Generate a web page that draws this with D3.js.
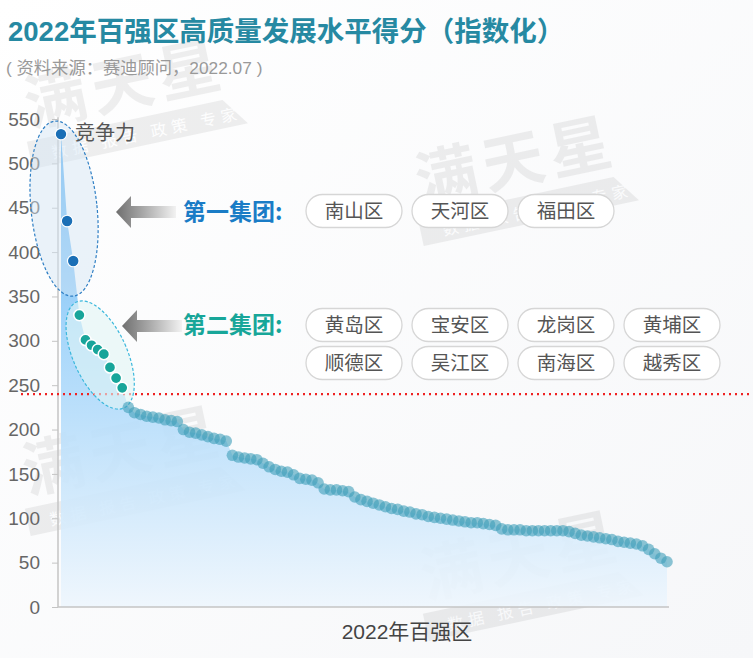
<!DOCTYPE html>
<html><head><meta charset="utf-8">
<script src="https://cdn.jsdelivr.net/npm/d3@7"></script>
<style>
html,body{margin:0;padding:0;background:#fafafb;}
svg{display:block;font-family:"Liberation Sans","Noto Sans CJK SC",sans-serif;}
</style></head>
<body>
<svg id="chart" width="753" height="658"></svg>
<script>
// ---------- data ----------
const ranks = d3.range(1, 101);
const scores = [533,435,390,329,301,295,290,285,270,258,247,
  225,219,217,215,214,213,211,210,209,
  200,197,196,194,192,190,189,187,
  171,169,168,167,166,162,158,155,153,152,
  149,145,144,143,140,133,132,132,131,130,
  124,121,119,117,115,113,111,110,108,107,
  105,104,102,101,100,99,98,97,96,95,
  95,94,93,92,88,87,87,87,86,86,
  86,86,86,86,86,85,83,81,80,79,
  78,77,76,74,73,72,71,69,65,60,
  55,51];
const yTicks = [0,50,100,150,200,250,300,350,400,450,500,550];
const group1Names = ["南山区","天河区","福田区"];
const group2Names = ["黄岛区","宝安区","龙岗区","黄埔区","顺德区","吴江区","南海区","越秀区"];
const group1Size = 3, group2Size = 8;
const threshold = 240;
const titleText = "2022年百强区高质量发展水平得分（指数化）";
const sourceText = "( 资料来源：赛迪顾问，2022.07 )";
const xLabel = "2022年百强区";
const peakLabel = "竞争力";

const data = ranks.map((r,i)=>({rank:r, score:scores[i]}));

const svg = d3.select("#chart");
const W = 753, H = 658;
const defs = svg.append("defs");

// background
const bg = defs.append("linearGradient").attr("id","bgGrad").attr("x1",0).attr("y1",0).attr("x2",1).attr("y2",1);
bg.append("stop").attr("offset","0%").attr("stop-color","#ffffff");
bg.append("stop").attr("offset","100%").attr("stop-color","#f6f7f9");
svg.append("rect").attr("width",W).attr("height",H).attr("fill","url(#bgGrad)");

// scales
const x = d3.scaleLinear().domain([1,100]).range([61,667]);
const y = d3.scaleLinear().domain([0,550]).range([607,119]);

// watermarks
function watermark(tx, ty){
  const g = svg.append("g").attr("transform",`translate(${tx},${ty}) rotate(-12)`).attr("opacity",0.06);
  g.append("path").attr("d","M0,14 L200,14 L220,42 L0,42 Z").attr("fill","#000");
  g.append("text").attr("x",6).attr("y",0).attr("font-size",62).attr("font-weight","bold")
    .attr("letter-spacing",6).attr("fill","#000").attr("font-family","Noto Sans CJK SC").text("满天星");
  g.append("text").attr("x",22).attr("y",36).attr("font-size",16).attr("letter-spacing",5)
    .attr("fill","#fff").attr("font-family","Noto Sans CJK SC").text("数据 报告 政策 专家");
}
watermark(24,128);
watermark(415,205);
watermark(22,495);
watermark(420,600);

// area gradient
const ag = defs.append("linearGradient").attr("id","areaGrad").attr("gradientUnits","userSpaceOnUse")
  .attr("x1",0).attr("y1",y(550)).attr("x2",0).attr("y2",y(0));
ag.append("stop").attr("offset","0%").attr("stop-color","#4aa8f0");
ag.append("stop").attr("offset","45%").attr("stop-color","#9fd3fa");
ag.append("stop").attr("offset","100%").attr("stop-color","#eef6fd");

const area = d3.area().x(d=>x(d.rank)).y0(y(0)).y1(d=>y(d.score));
svg.append("path").datum(data).attr("d",area).attr("fill","url(#areaGrad)").attr("opacity",0.9);

// axes
const yAxis = d3.axisLeft(y).tickValues(yTicks).tickSize(6).tickPadding(12);
const gy = svg.append("g").attr("transform",`translate(58,0)`).call(yAxis);
gy.select(".domain").attr("stroke","#c4c4c4").attr("stroke-width",1.5).attr("d",`M0,${y(0)}V${y(552)}`);
gy.selectAll(".tick line").attr("stroke","#c4c4c4");
gy.selectAll(".tick text").attr("fill","#666").attr("font-size",19).attr("font-family","Liberation Sans, sans-serif");

const xAxis = d3.axisBottom(x).tickValues([]).tickSizeOuter(0);
const gx = svg.append("g").attr("transform",`translate(0,${y(0)})`).call(xAxis);
gx.select(".domain").attr("stroke","#c4c4c4").attr("stroke-width",1.5).attr("d","M58,0H669");

svg.append("text").attr("x",(x(1)+x(100))/2+43).attr("y",639).attr("text-anchor","middle")
  .attr("font-size",21).attr("fill","#444").text(xLabel);

// threshold line
svg.append("line").attr("x1",21).attr("x2",W).attr("y1",y(threshold)).attr("y2",y(threshold))
  .attr("stroke","#ee2222").attr("stroke-width",2.2).attr("stroke-dasharray","2,4");

// ellipses
function ellipseAround(cxIdx, cyVal, rx, ry, angle, fill, stroke){
  svg.append("ellipse").attr("transform",`translate(${x(cxIdx)},${y(cyVal)}) rotate(${angle})`)
    .attr("rx",rx).attr("ry",ry).attr("fill",fill).attr("stroke",stroke)
    .attr("stroke-width",1.2).attr("stroke-dasharray","3,2");
}
ellipseAround(1.5, 449, 33, 88, -6, "rgba(210,228,245,0.45)", "#2f7fc4");
ellipseAround(7.4, 284, 27, 58, -24, "rgba(225,245,245,0.6)", "#3bb8dc");

// dots
svg.append("g").selectAll("circle").data(data.slice(group1Size+group2Size)).join("circle")
  .attr("cx",d=>x(d.rank)).attr("cy",d=>y(d.score)).attr("r",5.8)
  .attr("fill","#3f9fb9").attr("fill-opacity",0.6);
svg.append("g").selectAll("circle").data(data.slice(group1Size, group1Size+group2Size)).join("circle")
  .attr("cx",d=>x(d.rank)).attr("cy",d=>y(d.score)).attr("r",5.6)
  .attr("fill","#18a59a").attr("stroke","#fff").attr("stroke-width",1.5);
svg.append("g").selectAll("circle").data(data.slice(0, group1Size)).join("circle")
  .attr("cx",d=>x(d.rank)).attr("cy",d=>y(d.score)).attr("r",5.8)
  .attr("fill","#1b6fb6").attr("stroke","#fff").attr("stroke-width",1.2);

svg.append("text").attr("x",x(1)+14).attr("y",y(scores[0])+6).attr("font-size",20).attr("fill","#555")
  .attr("font-family","Noto Sans CJK SC").text(peakLabel);

// arrows
const arg = defs.append("linearGradient").attr("id","arrowGrad").attr("x1",0).attr("y1",0).attr("x2",1).attr("y2",0);
arg.append("stop").attr("offset","0%").attr("stop-color","#6f6f6f");
arg.append("stop").attr("offset","45%").attr("stop-color","#a8a8a8");
arg.append("stop").attr("offset","100%").attr("stop-color","#f2f2f2");
function arrow(tipX, cy){
  const p = `M${tipX},${cy} L${tipX+15},${cy-16} L${tipX+15},${cy-6} L${tipX+60},${cy-6} L${tipX+60},${cy+6} L${tipX+15},${cy+6} L${tipX+15},${cy+16} Z`;
  svg.append("path").attr("d",p).attr("fill","url(#arrowGrad)");
}
arrow(116,212);
arrow(122,326);

// group labels and pills
function groupLabel(txt, cy, color){
  svg.append("text").attr("x",183).attr("y",cy+8).attr("font-size",23).attr("font-weight","bold")
    .attr("fill",color).attr("font-family","Noto Sans CJK SC").text(txt);
}
groupLabel("第一集团:", 212, "#1a7cc6");
groupLabel("第二集团:", 325, "#17a699");

function pills(names, cy0, rowGap){
  names.forEach((n,i)=>{
    const col = i%4, row = Math.floor(i/4);
    const px = 306 + col*106, py = cy0 + row*rowGap;
    const g = svg.append("g");
    g.append("rect").attr("x",px).attr("y",py-16.5).attr("width",96).attr("height",33).attr("rx",16.5)
      .attr("fill","#fff").attr("stroke","#d6d6d6").attr("stroke-width",1.3);
    g.append("text").attr("x",px+48).attr("y",py+7).attr("text-anchor","middle").attr("font-size",19.5)
      .attr("fill","#555").attr("font-family","Noto Sans CJK SC").text(n);
  });
}
pills(group1Names, 211, 38);
pills(group2Names, 325, 38);

// titles
svg.append("text").attr("x",8).attr("y",41).attr("font-size",27.5).attr("font-weight","bold")
  .attr("fill","#2689a2").attr("font-family","Liberation Sans, Noto Sans CJK SC").text(titleText);
svg.append("text").attr("x",6).attr("y",74).attr("font-size",17.3).attr("fill","#999")
  .attr("font-family","Liberation Sans, Noto Sans CJK SC").text(sourceText);
</script>
</body></html>
